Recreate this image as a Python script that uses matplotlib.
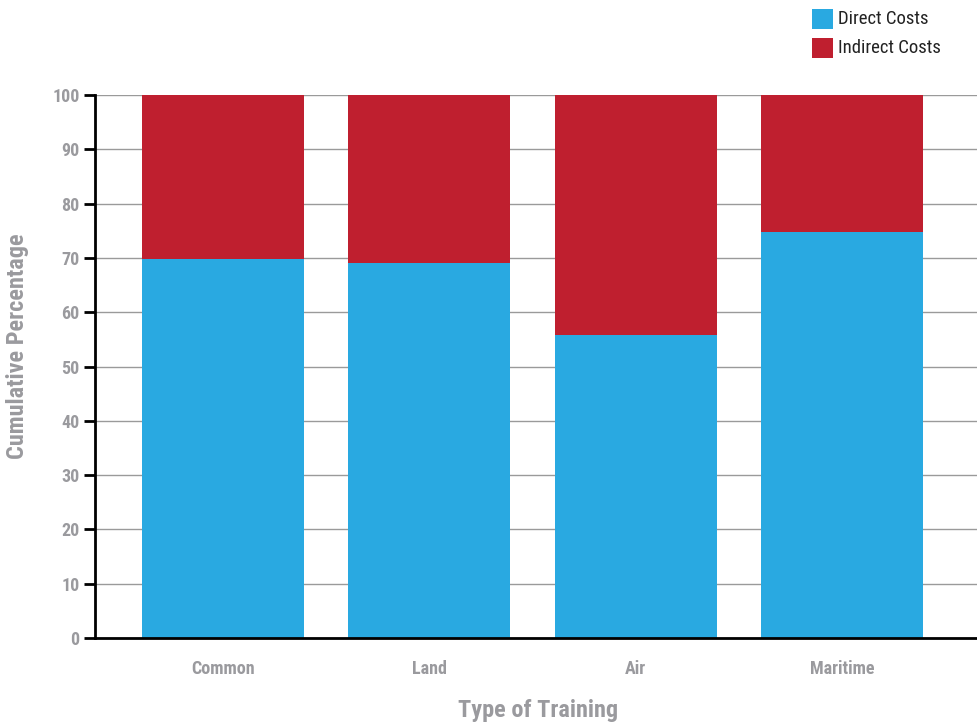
import matplotlib
matplotlib.use("Agg")
import matplotlib.pyplot as plt
from matplotlib.patches import Rectangle
from matplotlib import font_manager
from matplotlib.font_manager import FontProperties


def font_by_file(fname, fallback_weight):
    for f in font_manager.fontManager.ttflist:
        if f.fname.split("/")[-1] == fname:
            return FontProperties(fname=f.fname)
    return FontProperties(family=["Roboto", "DejaVu Sans"], weight=fallback_weight)


BOLD = font_by_file("RobotoCondensed-Bold.ttf", "bold")
REG = font_by_file("RobotoCondensed-Regular.ttf", "normal")


def fp(base, size):
    p = base.copy()
    p.set_size(size)
    return p


categories = ["Common", "Land", "Air", "Maritime"]
direct = [69.8, 69.1, 55.8, 74.8]
indirect = [100 - d for d in direct]
series_names = ["Direct Costs", "Indirect Costs"]
yticks = list(range(0, 101, 10))

BLUE = "#29A9E1"
RED = "#BF1F2F"
GRAY = "#9A9A9E"

fig = plt.figure(figsize=(9.77, 7.25), dpi=100)
ax = fig.add_axes([95/977, 1 - 638/725, (977-95)/977, (638-95)/725])

x = list(range(len(categories)))
ax.bar(x, direct, width=0.785, color=BLUE, zorder=2)
ax.bar(x, indirect, width=0.785, bottom=direct, color=RED, zorder=2)

ax.set_xlim(-0.62, 3.654)
ax.set_ylim(0, 100)
ax.set_yticks(yticks)
ax.yaxis.grid(True, color="#9a9a9a", linewidth=1.0, zorder=0)
ax.set_axisbelow(True)

for s in ["top", "right"]:
    ax.spines[s].set_visible(False)
ax.spines["left"].set_linewidth(2.0)
ax.spines["bottom"].set_linewidth(2.0)
ax.spines["left"].set_zorder(3)
ax.spines["bottom"].set_zorder(3)

ax.tick_params(axis="y", length=8, width=2.0, color="black", labelcolor=GRAY, pad=3)
ax.tick_params(axis="x", length=0, labelcolor=GRAY, pad=16)
ax.set_xticks(x)
ax.set_xticklabels(categories)
tfp = fp(BOLD, 13)
for lab in ax.get_xticklabels() + ax.get_yticklabels():
    lab.set_fontproperties(tfp)

lfp = fp(BOLD, 17.5)
fig.text(538/977, 1 - 711/725, "Type of Training", fontproperties=lfp, color=GRAY,
         ha="center", va="center")
fig.text(18/977, 1 - 346/725, "Cumulative Percentage", fontproperties=lfp, color=GRAY,
         ha="center", va="center", rotation=90)

# legend
gfp = fp(REG, 13.5)
for i, (name, col) in enumerate(zip(series_names, [BLUE, RED])):
    top = 9 + i * 29
    fig.patches.append(Rectangle((812/977, 1 - (top + 20)/725), 21/977, 20/725,
                                 transform=fig.transFigure, facecolor=col, edgecolor="none"))
    fig.text(838/977, 1 - (top + 10)/725, name, fontproperties=gfp, color="#222222",
             ha="left", va="center")

fig.savefig("out.png", dpi=100)
